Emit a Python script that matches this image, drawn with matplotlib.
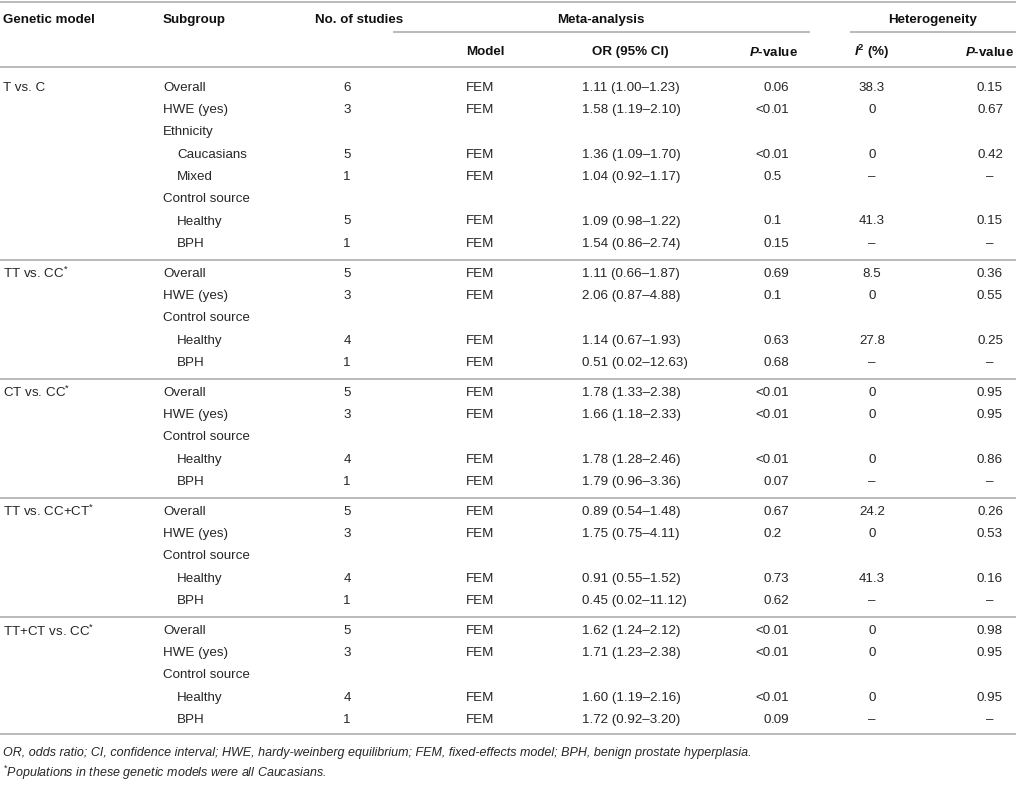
import matplotlib.pyplot as plt

plt.rcParams['font.family'] = ['Liberation Sans', 'DejaVu Sans']
plt.rcParams['mathtext.fontset'] = 'custom'
plt.rcParams['mathtext.rm'] = 'Liberation Sans'
plt.rcParams['mathtext.it'] = 'Liberation Sans:italic'
plt.rcParams['mathtext.bf'] = 'Liberation Sans:bold'
plt.rcParams['mathtext.bfit'] = 'Liberation Sans:bold:italic'

# table content
genetic_models = ["T vs. C", "TT vs. CC", "CT vs. CC", "TT vs. CC+CT", "TT+CT vs. CC"]
model_star = [False, True, True, True, True]

block_of_row = [0] * 8 + [1] * 5 + [2] * 5 + [3] * 5 + [4] * 5
subgroups = ["Overall", "HWE (yes)", "Ethnicity", "Caucasians", "Mixed",
             "Control source", "Healthy", "BPH"] + \
            ["Overall", "HWE (yes)", "Control source", "Healthy", "BPH"] * 4
indented = ["Caucasians", "Mixed", "Healthy", "BPH"]

n_studies = ["6", "3", "", "5", "1", "", "5", "1",
             "5", "3", "", "4", "1",
             "5", "3", "", "4", "1",
             "5", "3", "", "4", "1",
             "5", "3", "", "4", "1"]
effect_model = ["" if n == "" else "FEM" for n in n_studies]
or_ci = ["1.11 (1.00–1.23)", "1.58 (1.19–2.10)", "", "1.36 (1.09–1.70)", "1.04 (0.92–1.17)",
         "", "1.09 (0.98–1.22)", "1.54 (0.86–2.74)",
         "1.11 (0.66–1.87)", "2.06 (0.87–4.88)", "", "1.14 (0.67–1.93)", "0.51 (0.02–12.63)",
         "1.78 (1.33–2.38)", "1.66 (1.18–2.33)", "", "1.78 (1.28–2.46)", "1.79 (0.96–3.36)",
         "0.89 (0.54–1.48)", "1.75 (0.75–4.11)", "", "0.91 (0.55–1.52)", "0.45 (0.02–11.12)",
         "1.62 (1.24–2.12)", "1.71 (1.23–2.38)", "", "1.60 (1.19–2.16)", "1.72 (0.92–3.20)"]
p_meta = ["0.06", "<0.01", "", "<0.01", "0.5", "", "0.1", "0.15",
          "0.69", "0.1", "", "0.63", "0.68",
          "<0.01", "<0.01", "", "<0.01", "0.07",
          "0.67", "0.2", "", "0.73", "0.62",
          "<0.01", "<0.01", "", "<0.01", "0.09"]
i2 = ["38.3", "0", "", "0", "–", "", "41.3", "–",
      "8.5", "0", "", "27.8", "–",
      "0", "0", "", "0", "–",
      "24.2", "0", "", "41.3", "–",
      "0", "0", "", "0", "–"]
p_het = ["0.15", "0.67", "", "0.42", "–", "", "0.15", "–",
         "0.36", "0.55", "", "0.25", "–",
         "0.95", "0.95", "", "0.86", "–",
         "0.26", "0.53", "", "0.16", "–",
         "0.98", "0.95", "", "0.95", "–"]

footnote1 = ("OR, odds ratio; CI, confidence interval; HWE, hardy-weinberg equilibrium; "
             "FEM, fixed-effects model; BPH, benign prostate hyperplasia.")
footnote2 = "Populations in these genetic models were all Caucasians."

fs = 9.6
body = '#262626'
rule = '#b4b4b4'

fig = plt.figure(figsize=(10.16, 8.03), dpi=100)
ax = fig.add_axes([0, 0, 1, 1])
ax.set_xlim(0, 1016)
ax.set_ylim(803, 0)
ax.axis('off')

# column positions
x_gm, x_sub, x_ind, x_n, x_mod, x_or, x_dec, x_i2, x_ph = 3, 163, 177, 347, 466, 582, 771, 872, 990

def hline(y, x0=0, x1=1016):
    ax.plot([x0, x1], [y, y], color=rule, lw=1.3, solid_capstyle='butt')

# header
hline(3)
hd = dict(fontsize=fs, fontweight='bold', color='#111', va='center')
ax.text(x_gm, 20, "Genetic model", ha='left', **hd)
ax.text(x_sub, 20, "Subgroup", ha='left', **hd)
ax.text(315, 20, "No. of studies", ha='left', **hd)
ax.text(601, 20, "Meta-analysis", ha='center', **hd)
ax.text(933, 20, "Heterogeneity", ha='center', **hd)
hline(33, 393, 810)
hline(33, 850, 1016)
ax.text(x_mod, 52, "Model", ha='left', **hd)
ax.text(630, 52, "OR (95% CI)", ha='center', **hd)
ax.text(798, 52, r"$\mathbfit{P}$-value", ha='right', **hd)
ax.text(x_i2, 52, r"$\mathbfit{I}^{\mathbf{2}}$ (%)", ha='center', **hd)
ax.text(1014, 52, r"$\mathbfit{P}$-value", ha='right', **hd)
hline(68)

# body rows
tx = dict(fontsize=fs, color=body, va='center')
row_h = 22.25
block_gap = 7.8
y = 88
prev_block = 0
for i, sub in enumerate(subgroups):
    b = block_of_row[i]
    if b != prev_block:
        hline(y - row_h + 17)
        y += block_gap
        prev_block = b
    if i == 0 or block_of_row[i - 1] != b:
        label = genetic_models[b] + (r"$^{*}$" if model_star[b] else "")
        ax.text(x_gm, y, label, ha='left', **tx)
    ax.text(x_ind if sub in indented else x_sub, y, sub, ha='left', **tx)
    ax.text(x_n, y, n_studies[i], ha='center', **tx)
    ax.text(x_mod, y, effect_model[i], ha='left', **tx)
    ax.text(x_or, y, or_ci[i], ha='left', **tx)
    if p_meta[i]:
        whole, frac = p_meta[i].split('.')
        ax.text(x_dec, y, whole, ha='right', **tx)
        ax.text(x_dec, y, '.' + frac, ha='left', **tx)
    ax.text(x_i2, y, i2[i], ha='center', **tx)
    ax.text(x_ph, y, p_het[i], ha='center', **tx)
    y += row_h

hline(735)

# footnotes
ft = dict(fontsize=9.0, color=body, style='italic', va='center', ha='left')
ax.text(3, 753, footnote1, **ft)
ax.text(3, 773, r"$^{*}$" + footnote2, **ft)

fig.savefig("out.png", dpi=100)
